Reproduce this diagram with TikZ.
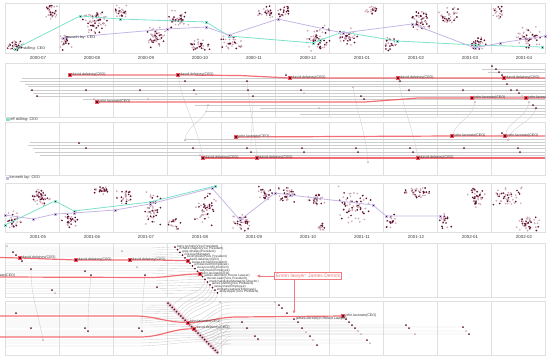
\documentclass[tikz,border=0pt]{standalone}
\usepackage{fontspec}
\setmainfont{Liberation Sans}
\usetikzlibrary{arrows.meta}
\pgfdeclarelayer{edgelayer}
\pgfdeclarelayer{nodelayer}
\pgfsetlayers{edgelayer,main,nodelayer}
\definecolor{skilc}{HTML}{7DE2C9}
\definecolor{layc}{HTML}{C4B7E6}
\definecolor{ceoc}{HTML}{F0555C}
\definecolor{darkc}{HTML}{621030}
\definecolor{lightc}{HTML}{CDA7B6}
\definecolor{panelc}{HTML}{E0E0E0}
\definecolor{storyc}{HTML}{CDCDCD}
\definecolor{textc}{HTML}{3A3A3A}
\definecolor{bandc}{HTML}{EDD3DB}
\definecolor{callc}{HTML}{F27A7E}
\tikzstyle{panel}=[draw=panelc, line width=0.6pt]
\tikzstyle{story}=[draw=storyc, line width=0.35pt]
\tikzstyle{ceo}=[draw=ceoc, line width=1.2pt, opacity=0.85]
\tikzstyle{skil}=[draw=skilc, line width=0.8pt]
\tikzstyle{lay}=[draw=layc, line width=0.8pt]
\tikzstyle{dot}=[circle, fill=darkc, inner sep=0pt, minimum size=2pt]
\tikzstyle{ldot}=[circle, fill=lightc, inner sep=0pt, minimum size=2pt]
\tikzstyle{bigdot}=[rectangle, fill=darkc, draw=ceoc, line width=0.3pt, inner sep=0pt, minimum size=3pt]
\tikzstyle{smark}=[rectangle, fill=darkc, draw=skilc, line width=0.4pt, inner sep=0pt, minimum size=2.2pt]
\tikzstyle{kmark}=[rectangle, fill=darkc, draw=layc, line width=0.4pt, inner sep=0pt, minimum size=2.2pt]
\tikzstyle{lbl}=[text=textc, font=\fontsize{3.6}{4}\selectfont, inner sep=0.6pt, yshift=0.9pt]
\tikzstyle{fanlbl}=[text=textc, font=\fontsize{3.2}{3.5}\selectfont, inner sep=0.6pt, yshift=0.8pt]
\tikzstyle{date}=[text=textc, font=\fontsize{4.4}{5}\selectfont]
\tikzstyle{legend}=[text=textc, font=\fontsize{3.8}{4}\selectfont, anchor=west, inner sep=0.5pt]
\tikzstyle{callout}=[draw=callc, line width=0.8pt, text=callc, fill=white, font=\fontsize{5}{6}\selectfont, inner sep=1.2pt]
\tikzstyle{callarrow}=[draw=callc, line width=0.8pt, -{Triangle[length=3pt,width=3pt]}]
% people leaving the fan on the right of september 2001
\newcommand\rdots{275/302/9/ldot,279/305/11/dot,282/308/12/dot,287/313/14/dot,298/322/15/dot,302/328/16/dot,306/332/17/ldot,310/336/18/dot,
	313/340/19/ldot,317/345/20/dot,346/319/14/dot,349/322/15/dot,352/325/16/dot,355/328/17/dot,358/331/18/ldot,361/334/19/ldot,
	367/340/21/dot,370/343/22/ldot,406/325/16/dot,409/328/17/dot,415/334/19/ldot,463/327/16/dot,466/331/18/ldot,469/334/19/dot,
	242/322/20/dot,247/328/21/dot,255/336/22/dot,258/339/23/dot}

\begin{document}
\begin{tikzpicture}[x=1pt, y=-1pt]
\useasboundingbox (0,0) rectangle (550,360);
\begin{pgfonlayer}{nodelayer}
	% trajectories in the scatter rows
	\foreach \n/\x/\y in {t0/15/49,t1/80/16,t2/120/19,t3/206/22,t4/229/36,t5/313/43,t6/320/40,t7/343/32,t8/397/41,t9/475/45,t10/542/47,
		s0/5/225,s1/55/201,s2/74/211,s3/150/202,s4/215/186}
		\node [style=smark] (\n) at (\x,\y) {};
	\foreach \n/\x/\y in {k0/63/38,k1/167/29,k2/206/27,k3/229/35,k4/278/19,k5/343/33,k6/412/24,k7/475/48,k8/500/43,k9/545/36,
		n0/5/215,n1/33/219,n2/55/214,n3/74/213,n4/115/210,n5/150/204,n6/212/188,n7/240/220,n8/275/193,n9/290/195,n10/373/205,n11/386/216,n12/440/216}
		\node [style=kmark] (\n) at (\x,\y) {};
	\node [style=legend] (t0l) at (16.5,49) {jeff skilling: CEO};
	\node [style=legend] (k0l) at (64.5,38) {kenneth lay: CEO};

	% month labels
	\foreach \m [count=\i from 0] in {2000-07,2000-08,2000-09,2000-10,2000-11,2000-12,2001-01,2001-02,2001-03,2001-04}
		\node [style=date] (ma\i) at ({38+54*\i},57.5) {\m};
	\foreach \m [count=\i from 0] in {2001-05,2001-06,2001-07,2001-08,2001-09,2001-10,2001-11,2001-12,2002-01,2002-02}
		\node [style=date] (mb\i) at ({38+54*\i},236.5) {\m};

	% legend
	\node [fill=skilc, inner sep=0pt, minimum size=3pt] (sk) at (7,119.5) {};
	\node [style=legend] (skt) at (9,119.5) {jeff skilling: CEO};
	\node [fill=layc, inner sep=0pt, minimum size=3pt] (ly) at (7,178) {};
	\node [style=legend] (lyt) at (9,178) {kenneth lay: CEO};

	% CEO points
	\foreach \n/\x/\y in {d1/70/75,d2/178/75,d3/290/78,d4/398/78,d5/504/78,e1/203/158,e2/257/158,e3/418/158,a1/20/258,a2/76/260,a3/130/260}
		\node [style=bigdot, label={[style=lbl]right:david.delainey(CEO)}] (\n) at (\x,\y) {};
	\foreach \n/\x/\y in {l1/97/102,l2/472/98,j1/236/137,j2/452/136,j3/505/136,m1/343/316}
		\node [style=bigdot, label={[style=lbl]right:john.lavorato(CEO)}] (\n) at (\x,\y) {};
	\begin{scope}
		\clip (5,63) rectangle (545,117);
		\node [style=bigdot, label={[style=lbl]right:john.lavorato(CEO)}] (l3) at (526,98) {};
	\end{scope}
	\node [style=lbl, anchor=east] (wl) at (16,276) {john.lavorato(CEO)};

	% other people
	\foreach \x/\y [count=\i] in {32/90,86/90,140/90,194/90,248/90,37/96,185/81,286/75,301/90,361/96,364/99,400/81,409/90,463/90,
		492/66,496/69,499/72,502/75,507/84,511/90,517/90,519/93,533/105,
		79/143,86/148,193/148,247/148,302/148,304/152,356/148,358/152,410/148,413/152,464/148,518/148,520/152,502/133,
		13/252,16/255,22/261,52/290,85/271,157/287,
		16/313,31/328,85/328,139/328}
		\node [style=dot] (p\i) at (\x,\y) {};
	\foreach \x/\y [count=\i] in {94/99,148/99,196/94,304/93,319/108,522/96,200/155,7/246,55/293,122/251,137/267,220/302}
		\node [style=ldot] (q\i) at (\x,\y) {};
	\foreach \n/\x/\y/\s in {c1a/208/105/ldot,c1b/185/140/ldot,c2a/247/81/dot,c3a/253/96/dot,c3b/251/152/dot,c4a/353/87/ldot,c4b/368/162/ldot,
		c5a/475/102/ldot,c6a/529/102/ldot,c7a/536/108/dot,c7b/508/140/ldot,c9a/31/269/dot,c9b/43/340/ldot,c10a/91/275/dot,c10b/88/331/dot,
		c11a/145/275/dot,c11b/142/331/dot}
		\node [style=\s] (\n) at (\x,\y) {};

	% August 2001 fan
	\foreach \who [count=\i] in {barry.tycholiz(Vice President),richard.shapiro(Vice President),greg.whalley(President),rick.buy(Manager),
		kevin.presto(Vice President),david.delainey(CEO),louise.kitchen(President),jeff.dasovich(Employee),susan.scott(Unknown),
		sally.beck(Employee),john.lavorato(CEO),james.derrick(In House Lawyer),steven.kean(Vice President),mark.haedicke(Managing Director),
		james.steffes(Vice President),tana.jones(Employee),kimberly.watson(Employee),andy.zipper(Vice President)}
		\node [style=dot, label={[style=fanlbl]right:\who}] (f\i) at ({172.5+2.5*\i},{244.3+2.7*\i}) {};
	\node [style=bigdot] (f6b) at (f6) {};
	\node [style=bigdot] (f11b) at (f11) {};

	\foreach \i in {1,...,24}
		\node [style=dot] (g\i) at ({165.85+2.15*\i},{300.85+2.15*\i}) {};
	\node [style=bigdot, label={[style=lbl]right:john.lavorato(CEO)}] (g10b) at (g10) {};
	\node [style=bigdot, label={[style=lbl]right:david.delainey(CEO)}] (g13b) at (g13) {};
	\node [style=dot, label={[style=lbl]right:james.derrick(In House Lawyer)}] (dj) at (294,319) {};

	\foreach \x/\y/\g/\s [count=\i] in \rdots
		\node [style=\s] (r\i) at (\x,\y) {};

	\node [style=callout] (cb) at (308,276) {Enron lawyer: James Derrick};
\end{pgfonlayer}

\begin{pgfonlayer}{edgelayer}
	% panels
	\foreach \top/\bot in {3/53,63/117,122/175,183/232,243/297,301/355}{
		\draw [style=panel] (5,\top) rectangle (545,\bot);
		\foreach \x in {59,113,...,491}
			\draw [style=panel] (\x,\top) -- (\x,\bot);
	}
	% storylines
	\foreach \y/\s in {69/482,72/488,78/22,81/20,84/25,86.5/28,90/30,93/33,96/37,99/83,105/195,108/260,111/205,114/300,
		139/185,142/30,145/28,148/33,152/35,155/40}
		\draw [style=story] (\s,\y) -- (545,\y);
	\draw [style=story] (d2) to[out=-80,in=100] (e1);
	\draw [style=story] (c1a) to[out=-100,in=80] (c1b);
	\draw [style=story] (c2a) to[out=-85,in=95] (e2);
	\draw [style=story] (c3a) to[out=-90,in=90] (c3b);
	\draw [style=story] (c4a) to[out=-80,in=95] (c4b);
	\draw [style=story] (d4) to[out=-80,in=100] (e3);
	\draw [style=story] (c5a) to[out=-100,in=70] (j2);
	\draw [style=story] (c6a) to[out=-100,in=75] (j3);
	\draw [style=story] (c7a) to[out=-110,in=70] (c7b);
	\draw [style=story] (c9a) to[out=-90,in=100] (c9b);
	\draw [style=story] (c10a) to[out=-95,in=90] (c10b);
	\draw [style=story] (c11a) to[out=-95,in=90] (c11b);

	\foreach \i/\y in {1/248,2/250,3/252,4/254,5/256,7/263,8/265.5,9/268,10/270.5,12/273,13/281,14/283.5,15/286,16/288.5,17/291,18/293.5}
		\draw [style=story] (5,\y) -- (148,\y) to[out=0,in=180] (f\i);
	\foreach \a/\b in {13/3,14/5,15/6,16/7,17/8,18/9}
		\draw [style=story] (f\a) to[out=-100,in=60] (g\b);
	\draw [bandc, line width=4pt, line cap=round] (g1.center) -- (g24.center);
	\foreach \n/\y in {2/305,3/307,4/309,5/311,6/313,7/319,8/321,9/323,11/325,12/327,14/331,15/333,16/335,17/340,18/343,19/346}
		\draw [style=story] (5,\y) -- (135,\y) to[out=0,in=180] (g\n);
	\foreach \x/\y/\g/\s [count=\i] in \rdots
		\draw [style=story] (g\g) to[out=15,in=180] (232,\y) -- (r\i);
	\draw [style=story] (g11) to[out=15,in=180] (240,319) -- (dj);

	% CEO lines
	\coordinate (ra) at (545,78);
	\coordinate (rb) at (545,98);
	\coordinate (rc) at (545,136);
	\coordinate (rd) at (545,158);
	\coordinate (wa) at (0,257.5);
	\coordinate (wb) at (0,277);
	\coordinate (wc) at (0,316);
	\coordinate (wd) at (0,337);
	\draw [style=ceo] (d1) -- (d2) -- (240,75.5) -- (d3) -- (d4) -- (d5) -- (ra);
	\draw [style=ceo] (l1) -- (365,102) -- (418,98) -- (l2) -- (l3) -- (rb);
	\draw [style=ceo] (j1) -- (j2) -- (j3) -- (rc);
	\draw [style=ceo] (e1) -- (e2) -- (e3) -- (rd);
	\draw [style=ceo] (wa) -- (a1) -- (a2) -- (a3) -- (150,260) to[out=0,in=180] (f6);
	\draw [style=ceo] (wb) -- (150,277.5) to[out=0,in=180] (f11);
	\draw [style=ceo] (wc) -- (135,316) to[out=0,in=180] (g10b) to[out=0,in=180] (237,317) -- (m1);
	\draw [style=ceo] (wd) -- (140,337) to[out=0,in=180] (g13b);
\end{pgfonlayer}

% scatter clouds
\pgfmathsetseed{11}
\foreach \top/\bot/\cl in {3/53/{15/45/10/7/20,51/12/8/8/22,95/22/15/12/40,66/42/7/9/14,121/12/8/8/18,155/37/11/12/30,178/20/11/10/25,
		200/45/12/7/22,232/42/11/9/22,267/12/10/6/18,284/12/7/6/14,318/38/14/14/35,347/37/13/9/25,372/11/8/6/14,390/44/7/8/14,
		421/20/11/12/30,449/16/11/10/24,479/44/9/9/20,498/12/7/8/14,528/37/14/12/32},
	183/232/{42/197/11/10/30,14/220/8/10/18,69/220/9/10/18,102/190/9/5/14,123/197/10/9/18,153/208/9/20/30,174/223/7/7/12,
		205/208/12/20/32,241/221/11/10/24,265/194/8/9/16,286/194/11/9/22,315/200/10/7/18,321/227/6/5/10,355/205/20/20/40,
		391/222/6/9/12,418/192/16/7/24,445/221/7/9/12,476/197/11/12/24,508/196/16/11/30,528/224/13/9/26}}{
	\begin{scope}
		\clip (5,\top) rectangle (545,\bot);
		\foreach \cx/\cy/\sx/\sy/\n in \cl{
			\pgfmathtruncatemacro\m{1.6*\n}
			\foreach \i in {1,...,\m}{
				\pgfmathsetmacro\px{\cx+\sx*(rand+rand)/2}
				\pgfmathsetmacro\py{\cy+\sy*(rand+rand)/2}
				\pgfmathsetmacro\dc{rnd}
				\ifdim\dc pt<0.45pt \fill [darkc] (\px,\py) circle (0.95pt);
				\else \fill [lightc] (\px,\py) circle (0.95pt); \fi
			}
		}
	\end{scope}
}
\draw [style=skil] (t0) -- (t1) -- (t2) -- (t3) -- (t4) -- (t5) -- (t6) -- (t7) -- (t8) -- (t9) -- (t10);
\draw [style=lay] (k0) -- (k1) -- (k2) -- (k3) -- (k4) -- (k5) -- (k6) -- (k7) -- (k8) -- (k9);
\draw [style=skil] (s0) -- (s1) -- (s2) -- (s3) -- (s4);
\draw [style=lay] (n0) -- (n1) -- (n2) -- (n3) -- (n4) -- (n5) -- (n6) -- (n7) -- (n8) -- (n9) -- (n10) -- (n11) -- (n12);

% callout
\coordinate (ctip) at (257,276);
\coordinate (dtip) at (294,313.5);
\draw [style=callarrow] (cb.west) -- (ctip);
\draw [style=callarrow] (cb.south -| dtip) -- (dtip);
\end{tikzpicture}
\end{document}
